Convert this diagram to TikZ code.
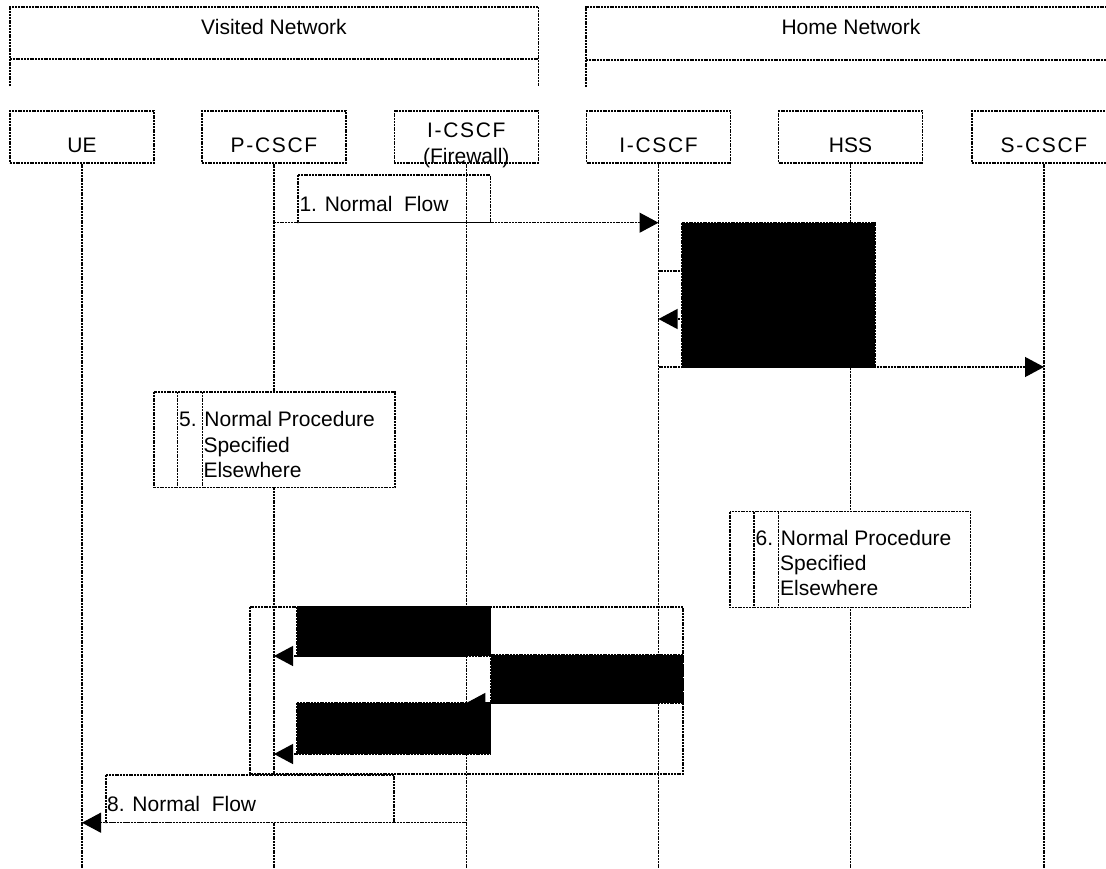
\documentclass[tikz,border=0pt]{standalone}
\usepackage{fontspec}
\setmainfont{Liberation Sans}
\usetikzlibrary{arrows.meta}
\newcommand{\spc}[1]{{\addfontfeature{LetterSpace=8}#1}}
\begin{document}
\begin{tikzpicture}[x=1bp,y=-1bp,
  dl/.style={line width=1.2bp, dash pattern=on 2bp off 0.8bp},
  part/.style={dl, draw, minimum width=144bp, minimum height=52bp, inner sep=0pt,
    font=\fontsize{21bp}{25bp}\selectfont, text height=30bp, text depth=0pt},
  txt/.style={font=\fontsize{21bp}{25bp}\selectfont, inner sep=0pt, anchor=base},
  txtl/.style={txt, anchor=base west},
  msg/.style={dl, -{Triangle[length=19bp,width=20bp]}},
  blk/.style={dl, draw, fill=black},
  proc/.style={dl, draw, fill=white},
]
\useasboundingbox (0,0) rectangle (1106,869);
\coordinate (bot) at (0,869);

% network headers
\draw[dl] (10,86) -- (10,7) -- (538.6,7) -- (538.6,86);
\draw[dl] (10,59) -- (538.6,59);
\node[txt] (vn) at (274,34) {Visited Network};
\draw[dl] (586,87) -- (586,7) -- (1120,7);
\draw[dl] (586,60) -- (1120,60);
\node[txt] (hn) at (851,34) {Home Network};

% participants
\node[part] (ue) at (82,137) {UE};
\node[part] (pcscf) at (274,137) {\spc{P-CSCF}};
\node[part] (icscffw) at (466.3,137) {};
\node[txt] (fw1) at (466.3,137.5) {\spc{I-CSCF}};
\node[txt] (fw2) at (466.3,163.5) {(Firewall)};
\node[part] (icscf) at (658.5,137) {\spc{I-CSCF}};
\node[part] (hss) at (850.5,137) {HSS};
\node[part] (scscf) at (1044,137) {\spc{S-CSCF}};

% lifelines
\foreach \n in {ue,pcscf,icscffw,icscf,hss,scscf}
  \draw[dl] (\n.south) -- (\n.south |- bot);

% message 1
\draw[dl] (298,175) rectangle (490.7,222.7);
\node[txtl] (t1) at (299.3,211.7) {1. Normal\ \ Flow};
\draw[msg] (pcscf |- 0,222.7) -- (icscf |- 0,222.7);

% messages 2-4
\draw[msg] (icscf |- 0,271) -- (hss |- 0,271);
\draw[msg] (hss |- 0,319) -- (icscf |- 0,319);
\draw[msg] (icscf |- 0,367) -- (scscf |- 0,367);
\draw[blk] (681.7,222.7) rectangle (875,367);

% box 5
\draw[proc] (154,392) rectangle (395,487.3);
\draw[dl] (177.7,392) -- (177.7,487.3);
\draw[dl] (202.3,392) -- (202.3,487.3);
\node[txtl] (t5a) at (179,426.7) {5. Normal Procedure};
\node[txtl] (t5b) at (203.3,452) {Specified};
\node[txtl] (t5c) at (203.3,477) {Elsewhere};

% box 6
\draw[proc] (730,511.7) rectangle (970.7,607.7);
\draw[dl] (754,511.7) -- (754,607.7);
\draw[dl] (778.7,511.7) -- (778.7,607.7);
\node[txtl] (t6a) at (755.5,545.7) {6. Normal Procedure};
\node[txtl] (t6b) at (780,570.7) {Specified};
\node[txtl] (t6c) at (780,595.5) {Elsewhere};

% frame with messages
\draw[dl] (250,607) rectangle (683,774);
\draw[msg] (icscffw |- 0,656) -- (pcscf |- 0,656);
\draw[msg] (icscf |- 0,703) -- (icscffw |- 0,703);
\draw[msg] (icscffw |- 0,754) -- (pcscf |- 0,754);
\draw[blk] (297,607) rectangle (490.7,656);
\draw[blk] (490.7,655) rectangle (683,703);
\draw[blk] (297,703) rectangle (490.7,754);

% message 8
\draw[proc] (106,775) rectangle (394,822.7);
\node[txtl] (t8) at (107,811.7) {8. Normal\ \ Flow};
\draw[msg] (icscffw |- 0,822.7) -- (ue |- 0,822.7);
\end{tikzpicture}
\end{document}
